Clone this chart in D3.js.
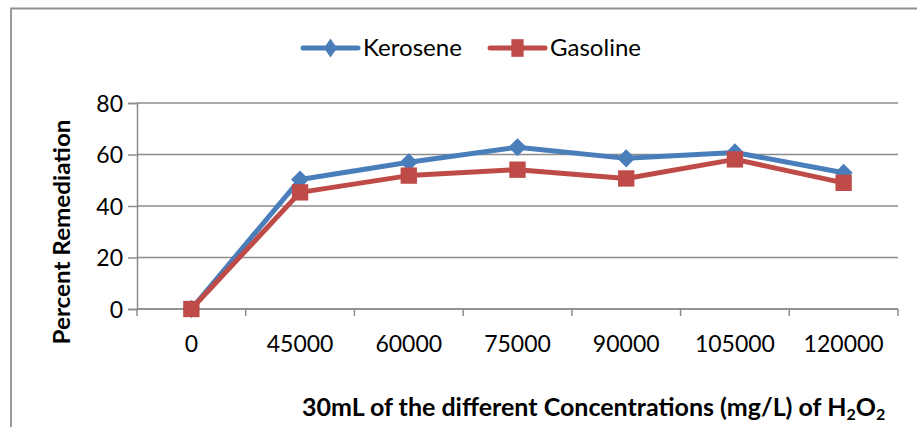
<!DOCTYPE html>
<html>
<head>
<meta charset="utf-8">
<script src="https://cdn.jsdelivr.net/npm/d3@7"></script>
<style>
  html, body { margin: 0; padding: 0; background: #fff; }
  svg { display: block; font-family: Lato, "Open Sans", sans-serif; }
</style>
</head>
<body>
<svg id="chart" width="917" height="427"></svg>
<script>
// H2O2 concentrations (mg/L) and remediation results
const categories = ["0", "45000", "60000", "75000", "90000", "105000", "120000"];
const kerosene = [0, 50.3, 57.0, 62.8, 58.5, 60.8, 52.9];
const gasoline = [0, 45.3, 51.8, 54.1, 50.7, 58.1, 49.0];
const yTicks = [0, 20, 40, 60, 80];
const seriesNames = ["Kerosene", "Gasoline"];
const seriesColors = ["#4a7ebb", "#be4b48"];

const svg = d3.select("#chart");
const W = 917, H = 427;

// outer chart frame (cut at the right and bottom)
svg.append("path")
  .attr("d", `M11,${H + 2} V8.5 H${W + 2}`)
  .attr("fill", "none")
  .attr("stroke", "#8f8f8f")
  .attr("stroke-width", 1.8);

const plot = { left: 137, right: 898, top: 103, bottom: 309 };

const x = d3.scaleBand().domain(categories).range([plot.left, plot.right]);
const y = d3.scaleLinear().domain([0, 80]).range([plot.bottom, plot.top]);

// horizontal gridlines
svg.append("g").selectAll("line").data(yTicks).join("line")
  .attr("x1", plot.left).attr("x2", plot.right)
  .attr("y1", d => y(d)).attr("y2", d => y(d))
  .attr("stroke", "#8c8c8c").attr("stroke-width", 1.5);

// y axis
const yAxis = svg.append("g")
  .attr("transform", `translate(${plot.left},0)`)
  .call(d3.axisLeft(y).tickValues(yTicks).tickSize(9).tickPadding(5));
yAxis.select(".domain").attr("stroke", "#8c8c8c").attr("stroke-width", 1.5);
yAxis.selectAll(".tick line").attr("stroke", "#8c8c8c").attr("stroke-width", 1.5);
yAxis.selectAll(".tick text")
  .attr("font-family", "Lato, sans-serif")
  .attr("font-size", 23).attr("fill", "#000")
  .attr("dy", "0.36em");

// x axis: tick marks on band boundaries
const xAxisG = svg.append("g").attr("transform", `translate(0,${plot.bottom})`);
xAxisG.append("line")
  .attr("x1", plot.left).attr("x2", plot.right)
  .attr("stroke", "#8c8c8c").attr("stroke-width", 1.5);
const bounds = categories.map(c => x(c)).concat([x(categories[categories.length - 1]) + x.bandwidth()]);
xAxisG.selectAll("line.tk").data(bounds).join("line")
  .attr("class", "tk")
  .attr("x1", d => d).attr("x2", d => d)
  .attr("y1", 0).attr("y2", 7)
  .attr("stroke", "#8c8c8c").attr("stroke-width", 1.5);
xAxisG.selectAll("text").data(categories).join("text")
  .attr("x", d => x(d) + x.bandwidth() / 2)
  .attr("y", 35)
  .attr("dy", "0.36em")
  .attr("text-anchor", "middle")
  .attr("font-size", 23)
  .text(d => d);

// series lines and markers
const line = d3.line()
  .x((d, i) => x(categories[i]) + x.bandwidth() / 2)
  .y(d => y(d));

const diamond = d3.symbol().type(d3.symbolDiamond2).size(210);
const square = d3.symbol().type(d3.symbolSquare2).size(340);
const markers = [diamond, square];

[kerosene, gasoline].forEach((vals, s) => {
  svg.append("path")
    .datum(vals)
    .attr("d", line)
    .attr("fill", "none")
    .attr("stroke", seriesColors[s])
    .attr("stroke-width", 5)
    .attr("stroke-linejoin", "round");
  svg.append("g").selectAll("path").data(vals).join("path")
    .attr("transform", (d, i) => `translate(${x(categories[i]) + x.bandwidth() / 2},${y(d)})`)
    .attr("d", markers[s])
    .attr("fill", seriesColors[s]);
});

// legend
const legendItems = [
  { lx: 303, tx: 363, tw: 99 },
  { lx: 490, tx: 550, tw: 91 }
];
const legendY = 48;
const legendMarkers = [
  d3.symbol().type(d3.symbolDiamond2).size(170),
  d3.symbol().type(d3.symbolSquare2).size(300)
];
legendItems.forEach((it, s) => {
  const g = svg.append("g");
  g.append("line")
    .attr("x1", it.lx).attr("x2", it.lx + 55)
    .attr("y1", legendY).attr("y2", legendY)
    .attr("stroke", seriesColors[s]).attr("stroke-width", 5)
    .attr("stroke-linecap", "round");
  g.append("path")
    .attr("transform", `translate(${it.lx + 27.5},${legendY}) scale(0.8,1.15)`)
    .attr("d", legendMarkers[s])
    .attr("fill", seriesColors[s]);
  g.append("text")
    .attr("x", it.tx).attr("y", legendY)
    .attr("dy", "0.36em")
    .attr("font-size", 23)
    .attr("textLength", it.tw)
    .attr("lengthAdjust", "spacingAndGlyphs")
    .text(seriesNames[s]);
});

// axis titles
svg.append("text")
  .attr("transform", `translate(70,232) rotate(-90)`)
  .attr("text-anchor", "middle")
  .attr("font-weight", "bold")
  .attr("font-size", 22)
  .attr("textLength", 225)
  .attr("lengthAdjust", "spacingAndGlyphs")
  .text("Percent Remediation");

const xt = svg.append("text")
  .attr("x", 302).attr("y", 416)
  .attr("font-weight", "bold")
  .attr("font-size", 25);
xt.append("tspan").text("30mL of the different Concentrations (mg/L) of H");
xt.append("tspan").attr("font-size", 16).attr("dy", 4).text("2");
xt.append("tspan").attr("dy", -4).text("O");
xt.append("tspan").attr("font-size", 16).attr("dy", 4).text("2");
</script>
</body>
</html>
